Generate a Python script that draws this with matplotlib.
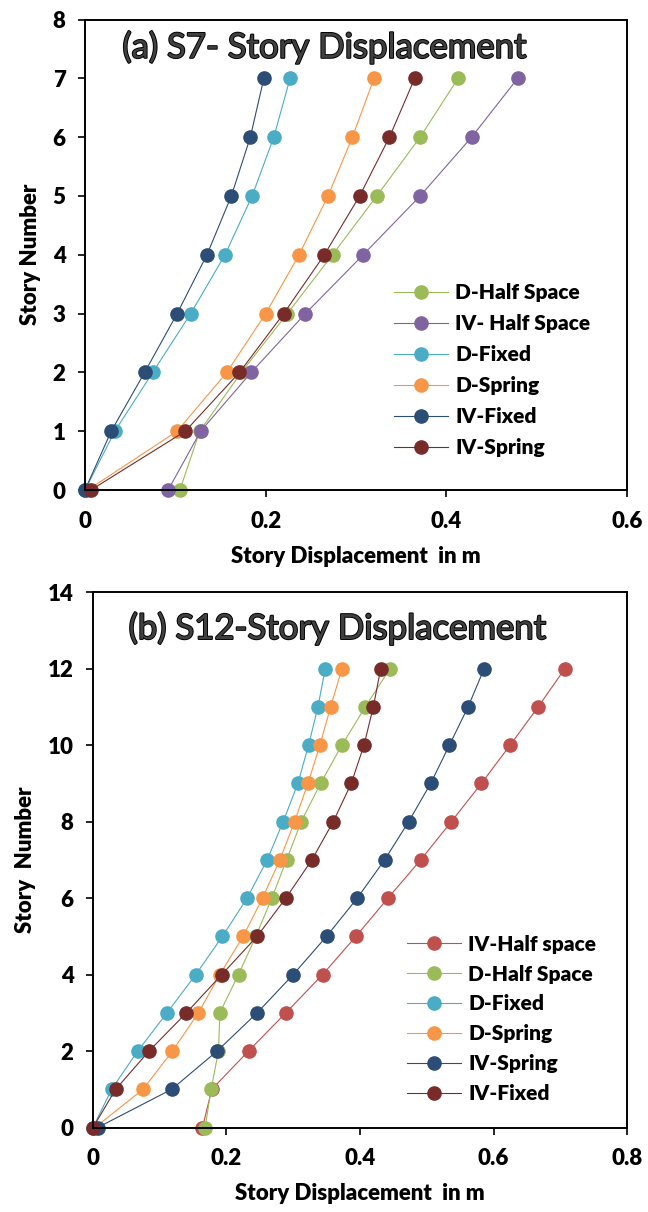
import matplotlib
matplotlib.use("Agg")
import matplotlib.pyplot as plt
import matplotlib.patheffects as pe

plt.rcParams['font.family'] = ['Lato', 'DejaVu Sans']

# panel (a) S7, stories 0..7
stories_a = [0, 1, 2, 3, 4, 5, 6, 7]
d_half_a = [0.105, 0.127, 0.173, 0.224, 0.274, 0.323, 0.371, 0.413]
iv_half_a = [0.092, 0.128, 0.184, 0.244, 0.308, 0.371, 0.428, 0.479]
d_fixed_a = [0.0, 0.033, 0.075, 0.117, 0.155, 0.185, 0.209, 0.227]
d_spring_a = [0.003, 0.102, 0.157, 0.200, 0.237, 0.269, 0.296, 0.320]
iv_fixed_a = [0.0, 0.029, 0.066, 0.102, 0.135, 0.162, 0.183, 0.198]
iv_spring_a = [0.0065, 0.111, 0.171, 0.220, 0.265, 0.304, 0.337, 0.365]

# panel (b) S12, stories 0..12
stories_b = list(range(13))
iv_half_b = [0.164, 0.178, 0.233, 0.289, 0.344, 0.394, 0.442, 0.491, 0.537, 0.582, 0.625, 0.667, 0.707]
d_half_b = [0.168, 0.177, 0.188, 0.190, 0.218, 0.244, 0.268, 0.290, 0.312, 0.341, 0.373, 0.408, 0.445]
d_fixed_b = [0.0, 0.028, 0.067, 0.111, 0.154, 0.194, 0.231, 0.261, 0.285, 0.307, 0.323, 0.337, 0.348]
d_spring_b = [0.003, 0.075, 0.119, 0.158, 0.190, 0.225, 0.254, 0.280, 0.302, 0.322, 0.340, 0.356, 0.373]
iv_spring_b = [0.007, 0.118, 0.186, 0.246, 0.300, 0.350, 0.396, 0.437, 0.473, 0.506, 0.534, 0.562, 0.586]
iv_fixed_b = [0.0, 0.034, 0.084, 0.140, 0.193, 0.246, 0.289, 0.328, 0.360, 0.387, 0.406, 0.420, 0.431]

GREEN, PURPLE, AQUA, ORANGE = '#9BBB59', '#8064A2', '#4BACC6', '#F79646'
NAVY, MAROON, RED = '#2C4D75', '#772C2A', '#C0504D'

series_a = [
    ('D-Half Space', d_half_a, GREEN),
    ('IV- Half Space', iv_half_a, PURPLE),
    ('D-Fixed', d_fixed_a, AQUA),
    ('D-Spring', d_spring_a, ORANGE),
    ('IV-Fixed', iv_fixed_a, NAVY),
    ('IV-Spring', iv_spring_a, MAROON),
]
series_b = [
    ('IV-Half space', iv_half_b, RED),
    ('D-Half Space', d_half_b, GREEN),
    ('D-Fixed', d_fixed_b, AQUA),
    ('D-Spring', d_spring_b, ORANGE),
    ('IV-Spring', iv_spring_b, NAVY),
    ('IV-Fixed', iv_fixed_b, MAROON),
]

fig = plt.figure(figsize=(6.48, 12.12), dpi=100)
ax1 = fig.add_axes([0.1312, 0.5957, 0.8364, 0.3882])
ax2 = fig.add_axes([0.1435, 0.0697, 0.8241, 0.4418])

WT = 'heavy'


def draw(ax, stories, series, xmax, xticks, yticks, ylabel, leg_anchor, spacing):
    for name, vals, col in series:
        ax.plot(vals, stories, color=col, lw=0.8, marker='o', ms=9.5,
                mec=col, mfc=col, label=name, clip_on=False)
    ax.set_xlim(0, xmax)
    ax.set_ylim(0, yticks[-1])
    ax.set_xticks(xticks)
    ax.set_xticklabels(['0' if t == 0 else '%.1f' % t for t in xticks])
    ax.set_yticks(yticks)
    ax.tick_params(axis='both', direction='out', length=5, width=1.2,
                   labelsize=16)
    ax.tick_params(axis='y', pad=9)
    ax.tick_params(axis='x', pad=10)
    for lab in ax.get_xticklabels() + ax.get_yticklabels():
        lab.set_fontweight(WT)
    for sp in ax.spines.values():
        sp.set_linewidth(1.4)
        sp.set_color('black')
    ax.set_xlabel('Story Displacement  in m', fontsize=16, fontweight=WT,
                  labelpad=10)
    ax.set_ylabel(ylabel, fontsize=16, fontweight=WT, labelpad=8)
    leg = ax.legend(loc='upper left', bbox_to_anchor=leg_anchor, frameon=False,
                    prop={'size': 15, 'weight': WT}, handlelength=2.6,
                    handletextpad=0.35, labelspacing=spacing, borderpad=0,
                    borderaxespad=0)
    return leg


draw(ax1, stories_a, series_a, 0.6, [0, 0.2, 0.4, 0.6], list(range(9)),
     'Story Number', (0.57, 0.44), 0.58)
draw(ax2, stories_b, series_b, 0.8, [0, 0.2, 0.4, 0.6, 0.8], list(range(0, 15, 2)),
     'Story  Number', (0.588, 0.36), 0.52)

title_fx = [pe.withStroke(linewidth=1.4, foreground='black')]
fig.text(0.5015, 0.961, '(a) S7- Story Displacement', fontsize=25,
         ha='center', va='center', color='#404040', path_effects=title_fx)
fig.text(0.5216, 0.4815, '(b) S12-Story Displacement', fontsize=25,
         ha='center', va='center', color='#404040', path_effects=title_fx)

fig.savefig('out.png', dpi=100)
